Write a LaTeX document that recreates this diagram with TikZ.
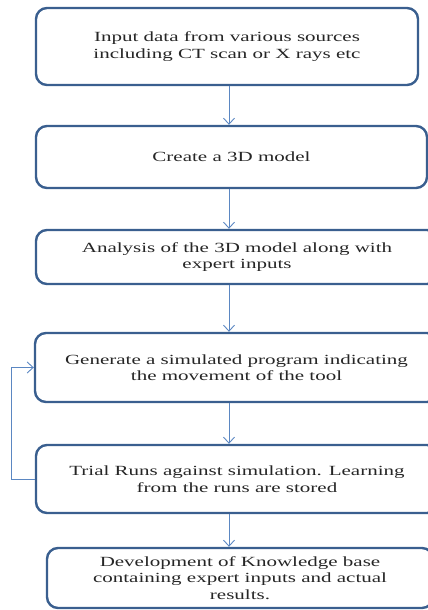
\documentclass[tikz,border=0pt]{standalone}
\usepackage{fontspec}
\setmainfont{Liberation Serif}
\newfontfamily\boxfont[FakeStretch=1.5]{Liberation Serif}
\usetikzlibrary{arrows.meta}
\definecolor{boxline}{HTML}{3A5F8F}
\definecolor{arrline}{HTML}{5B87C2}
\definecolor{txt}{HTML}{262626}
\tikzset{
  stepbox/.style={draw=boxline, line width=2.4pt, rounded corners=11pt, fill=white,
    align=center, text=txt, font=\boxfont\fontsize{14}{16.5}\selectfont, inner sep=0pt},
  arr/.style={draw=arrline, line width=0.9pt, -{Straight Barb[length=6pt,width=11pt,line width=0.9pt]}}
}
\begin{document}
\begin{tikzpicture}[x=1pt,y=-1pt]
\useasboundingbox (0,0) rectangle (428,610);
\clip (0,0) rectangle (428,610);
\coordinate (ax) at (229,0);
\node[stepbox, minimum width=382pt, minimum height=77pt] (b1) at (227,46.5)
  {Input data from various sources\\including CT scan or X rays etc};
\node[stepbox, minimum width=391pt, minimum height=62pt] (b2) at (231.5,157)
  {Create a 3D model};
\node[stepbox, minimum width=402pt, minimum height=54pt] (b3) at (237,257)
  {Analysis of the 3D model along with\\expert inputs};
\node[stepbox, minimum width=403pt, minimum height=69pt] (b4) at (236.5,367.5)
  {Generate a simulated program indicating\\the movement of the tool};
\node[stepbox, minimum width=402pt, minimum height=68pt] (b5) at (237,479)
  {Trial Runs against simulation. Learning\\from the runs are stored};
\node[stepbox, minimum width=386pt, minimum height=60pt] (b6) at (240,578)
  {Development of Knowledge base\\containing expert inputs and actual\\results.};
\draw[arr] (b1.south -| ax) -- (b2.north -| ax);
\draw[arr] (b2.south -| ax) -- (b3.north -| ax);
\draw[arr] (b3.south -| ax) -- (b4.north -| ax);
\draw[arr] (b4.south -| ax) -- (b5.north -| ax);
\draw[arr] (b5.south -| ax) -- (b6.north -| ax);
\draw[arr] (b5.west) -- ++(-23,0) |- (b4.west);
\end{tikzpicture}
\end{document}
